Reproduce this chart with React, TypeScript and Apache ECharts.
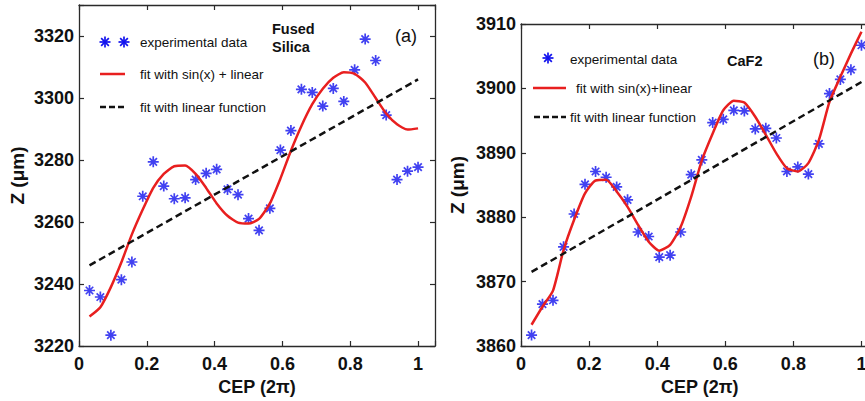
import React, { useEffect, useRef } from 'react';
import * as echarts from 'echarts';

// CEP values (units of 2π)
const cepX = [
  0.031, 0.063, 0.094, 0.125, 0.156, 0.188, 0.219, 0.25, 0.281, 0.313, 0.344, 0.375, 0.406, 0.438, 0.469, 0.5,
  0.531, 0.563, 0.594, 0.625, 0.656, 0.688, 0.719, 0.75, 0.781, 0.813, 0.844, 0.875, 0.906, 0.938, 0.969, 1.0,
];

// (a) Fused Silica
const silicaData = [
  3237.9, 3235.8, 3223.5, 3241.4, 3247.1, 3268.3, 3279.4, 3271.6, 3267.5, 3267.8, 3273.7, 3275.7, 3277.0, 3270.5, 3268.8, 3261.1,
  3257.3, 3264.4, 3283.2, 3289.5, 3302.8, 3301.8, 3297.4, 3303.1, 3298.9, 3309.1, 3319.0, 3312.1, 3294.5, 3273.7, 3276.4, 3277.7,
];
const silicaFit = [
  3229.5, 3232.5, 3239, 3247, 3256, 3264, 3271, 3275.5, 3278, 3278.2, 3275.5, 3271, 3266, 3262, 3259.8, 3259.5,
  3261, 3266, 3274, 3283, 3291, 3298, 3303, 3306.5, 3308.3, 3307.8, 3305, 3300, 3295, 3291.5, 3289.8, 3290.2,
];
const silicaLinX = [0.031, 1.0];
const silicaLinY = [3246, 3306];

// (b) CaF2
const caf2Data = [
  3861.7, 3866.5, 3867.1, 3875.4, 3880.5, 3885.1, 3887.1, 3886.2, 3884.7, 3882.7, 3877.7, 3877.0, 3873.8, 3874.1, 3877.7, 3886.6,
  3888.9, 3894.7, 3895.2, 3896.6, 3896.5, 3893.7, 3893.8, 3892.3, 3887.1, 3887.8, 3886.7, 3891.4, 3899.2, 3901.4, 3902.9, 3906.7,
];
const caf2Fit = [
  3863.3, 3866.1, 3868.6, 3874.9, 3879.6, 3883.7, 3885.7, 3885.8, 3884.0, 3881.6, 3878.8, 3876.2, 3874.8, 3875.7, 3878.5, 3883.2,
  3888.8, 3893.0, 3896.6, 3898.1, 3897.8, 3895.6, 3892.8, 3889.9, 3887.6, 3887.1, 3888.4, 3892.0, 3897.9, 3901.8, 3905.4, 3908.8,
];
const caf2LinX = [0.031, 1.0];
const caf2LinY = [3871.5, 3901];

const FONT = '"Liberation Sans", Arial, Helvetica, sans-serif';
const BLUE = '#1212ee';
const RED = '#e81f1f';
const DARK = '#111111';
const AXIS = '#2a2a2a';

const STAR = 'path://M5,0L5,10M0,5L10,5M1.6,1.6L8.4,8.4M8.4,1.6L1.6,8.4';

const pairs = (xs: number[], ys: number[]) => xs.map((x, i) => [x, ys[i]]);

const xFmt = (v: number) => {
  const r = Math.round(v * 5);
  if (Math.abs(v * 5 - r) > 1e-6) return '';
  return String(+(r / 5).toFixed(1));
};

function starGraphic(cx: number, cy: number, r: number) {
  const d = r * 0.7;
  const ls = { stroke: BLUE, lineWidth: 1.7 };
  return {
    type: 'group',
    children: [
      { type: 'line', shape: { x1: cx - r, y1: cy, x2: cx + r, y2: cy }, style: ls },
      { type: 'line', shape: { x1: cx, y1: cy - r, x2: cx, y2: cy + r }, style: ls },
      { type: 'line', shape: { x1: cx - d, y1: cy - d, x2: cx + d, y2: cy + d }, style: ls },
      { type: 'line', shape: { x1: cx - d, y1: cy + d, x2: cx + d, y2: cy - d }, style: ls },
    ],
  };
}

function txt(text: string, x: number, y: number, size: number, weight: string = 'normal') {
  return {
    type: 'text',
    style: {
      text,
      x,
      y,
      fontSize: size,
      fontWeight: weight,
      fontFamily: FONT,
      fill: DARK,
      verticalAlign: 'middle',
      align: 'left',
    },
  };
}

function hline(x1: number, x2: number, y: number, color: string, dash?: number[]) {
  return {
    type: 'line',
    shape: { x1, y1: y, x2, y2: y },
    style: { stroke: color, lineWidth: 2.5, lineDash: dash },
  };
}

export default function App() {
  const ref = useRef<HTMLDivElement>(null);

  useEffect(() => {
    if (!ref.current) return;
    const chart = echarts.init(ref.current, undefined, { renderer: 'svg' });

    const labelStyle = { fontSize: 18, fontWeight: 'bold', fontFamily: FONT, color: DARK };
    const axisLine = { show: true, onZero: false, lineStyle: { color: AXIS, width: 1.3 } };
    const tick = { show: true, inside: true, length: 5, lineStyle: { color: AXIS, width: 1.2 } };

    const mkX = (grid: number, pos: 'bottom' | 'top') => ({
      type: 'value',
      gridIndex: grid,
      position: pos,
      min: 0,
      max: 1.05,
      interval: 0.2,
      axisLine,
      axisTick: tick,
      splitLine: { show: false },
      axisLabel: pos === 'bottom' ? { ...labelStyle, margin: 9, formatter: xFmt } : { show: false },
      name: pos === 'bottom' ? 'CEP (2π)' : '',
      nameLocation: 'middle',
      nameGap: 30,
      nameTextStyle: { fontSize: 18, fontWeight: 'bold', fontFamily: FONT, color: DARK },
    });

    const mkY = (grid: number, pos: 'left' | 'right', min: number, max: number, interval: number, gap: number) => ({
      type: 'value',
      gridIndex: grid,
      position: pos,
      min,
      max,
      interval,
      axisLine,
      axisTick: tick,
      splitLine: { show: false },
      axisLabel:
        pos === 'left'
          ? { ...labelStyle, margin: 5, formatter: (v: number) => (v % interval === 0 ? String(v) : '') }
          : { show: false },
      name: pos === 'left' ? 'Z (μm)' : '',
      nameLocation: 'middle',
      nameRotate: 90,
      nameGap: gap,
      nameTextStyle: { fontSize: 19, fontWeight: 'bold', fontFamily: FONT, color: DARK },
    });

    const scatterCommon = {
      type: 'scatter',
      symbol: STAR,
      symbolSize: 11,
      itemStyle: { color: 'rgba(0,0,0,0)', borderColor: BLUE, borderWidth: 1.7 },
      z: 3,
    };

    chart.setOption({
      animation: false,
      backgroundColor: '#ffffff',
      grid: [
        { left: 79, top: 5, width: 356, height: 341, containLabel: false, outerBoundsMode: 'none' },
        { left: 521, top: 24, width: 357.5, height: 322, containLabel: false, outerBoundsMode: 'none' },
      ],
      xAxis: [mkX(0, 'bottom'), mkX(0, 'top'), mkX(1, 'bottom'), mkX(1, 'top')],
      yAxis: [
        mkY(0, 'left', 3220, 3330, 20, 52),
        mkY(0, 'right', 3220, 3330, 20, 52),
        mkY(1, 'left', 3860, 3910, 10, 54),
        mkY(1, 'right', 3860, 3910, 10, 54),
      ],
      series: [
        { ...scatterCommon, name: 'experimental data', xAxisIndex: 0, yAxisIndex: 0, data: pairs(cepX, silicaData) },
        {
          type: 'line', name: 'fit with sin(x) + linear', xAxisIndex: 0, yAxisIndex: 0,
          data: pairs(cepX, silicaFit), showSymbol: false, smooth: 0.2,
          lineStyle: { color: RED, width: 2.5 }, z: 4,
        },
        {
          type: 'line', name: 'fit with linear function', xAxisIndex: 0, yAxisIndex: 0,
          data: pairs(silicaLinX, silicaLinY), showSymbol: false,
          lineStyle: { color: DARK, width: 2.5, type: [7, 4] }, z: 5,
        },
        { ...scatterCommon, name: 'experimental data (b)', xAxisIndex: 2, yAxisIndex: 2, data: pairs(cepX, caf2Data) },
        {
          type: 'line', name: 'fit with sin(x)+linear', xAxisIndex: 2, yAxisIndex: 2,
          data: pairs(cepX, caf2Fit), showSymbol: false, smooth: 0.2,
          lineStyle: { color: RED, width: 2.5 }, z: 4,
        },
        {
          type: 'line', name: 'fit with linear function (b)', xAxisIndex: 2, yAxisIndex: 2,
          data: pairs(caf2LinX, caf2LinY), showSymbol: false,
          lineStyle: { color: DARK, width: 2.5, type: [7, 4] }, z: 5,
        },
      ],
      graphic: [
        // panel (a) legend
        starGraphic(105, 42, 5.5),
        starGraphic(124, 42, 5.5),
        txt('experimental data', 140, 42, 13.5),
        hline(100, 125, 74, RED),
        txt('fit with sin(x) + linear', 140, 74, 13.5),
        hline(100, 125, 107, DARK, [6, 3]),
        txt('fit with linear function', 140, 107, 13.5),
        txt('Fused', 272, 29, 14.5, 'bold'),
        txt('Silica', 272, 47, 14.5, 'bold'),
        txt('(a)', 395, 36, 18),
        // panel (b) legend
        starGraphic(548, 58, 5.5),
        txt('experimental data', 570, 59, 13.5),
        hline(533, 566, 88, RED),
        txt('fit with sin(x)+linear', 576, 88, 13.5),
        hline(534, 566, 117, DARK, [6, 3]),
        txt('fit with linear function', 570, 117, 13.5),
        txt('CaF2', 727, 61, 14.5, 'bold'),
        txt('(b)', 813, 59, 18),
      ],
    });

    return () => chart.dispose();
  }, []);

  return (
    <div
      ref={ref}
      style={{ position: 'fixed', left: 0, top: 0, width: 865, height: 401, background: '#fff', overflow: 'hidden' }}
    />
  );
}
